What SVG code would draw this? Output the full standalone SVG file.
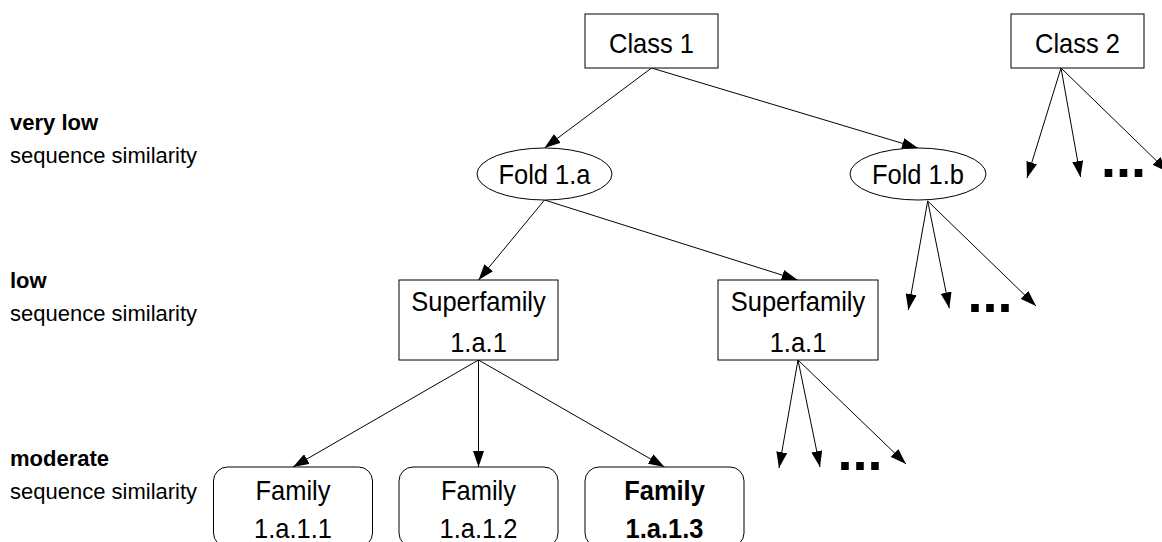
<svg xmlns="http://www.w3.org/2000/svg" width="1162" height="542" viewBox="0 0 1162 542">
<defs>
<marker id="ah" markerUnits="userSpaceOnUse" markerWidth="16" markerHeight="11" refX="16" refY="5.5" orient="auto">
<path d="M0,0 L16,5.5 L0,11 z" fill="#000"/>
</marker>
<style>
.n{fill:#fff;stroke:#000;stroke-width:1}
.t{font-family:"Liberation Sans",Arial,sans-serif;font-size:25.5px;fill:#000;text-anchor:middle}
.b{font-weight:bold}
.l{font-family:"Liberation Sans",Arial,sans-serif;font-size:22px;fill:#000}
.e{fill:none;stroke:#000;stroke-width:1;marker-end:url(#ah)}
.d{font-family:"Liberation Sans",Arial,sans-serif;font-size:54px;font-weight:bold;fill:#000;text-anchor:middle}
</style>
</defs>
<rect width="1162" height="542" fill="#fff"/>
<g id="legend">
<text class="l b" x="10" y="130">very low</text>
<text class="l" x="10" y="163">sequence similarity</text>
<text class="l b" x="10" y="288">low</text>
<text class="l" x="10" y="321">sequence similarity</text>
<text class="l b" x="10" y="466">moderate</text>
<text class="l" x="10" y="499">sequence similarity</text>
</g>
<g id="connectors">
<path class="e" d="M651.5,68 L544.5,148"/>
<path class="e" d="M651.5,68 L918,148"/>
<path class="e" d="M544.5,200 L478.5,280"/>
<path class="e" d="M544.5,200 L797.7,280"/>
<path class="e" d="M478.5,360 L293,467"/>
<path class="e" d="M478.5,360 L478.5,467"/>
<path class="e" d="M478.5,360 L664.5,467"/>
<path class="e" d="M927.7,201 L908.3,310"/>
<path class="e" d="M927.7,201 L949.3,308.3"/>
<path class="e" d="M927.7,201 L1036,306"/>
<path class="e" d="M1061,68 L1027,178"/>
<path class="e" d="M1061,68 L1080.5,177"/>
<path class="e" d="M1061,68 L1168,172"/>
<path class="e" d="M798,360 L779,468"/>
<path class="e" d="M798,360 L820,467"/>
<path class="e" d="M798,360 L906,464"/>
</g>
<g id="class1"><rect class="n" x="585" y="14" width="133" height="54"/><text class="t" transform="translate(651.5,53) scale(1,1.08)">Class 1</text></g>
<g id="class2"><rect class="n" x="1011" y="14" width="133" height="54"/><text class="t" transform="translate(1077.5,53) scale(1,1.08)">Class 2</text></g>
<g id="fold1a"><ellipse class="n" cx="544.5" cy="174" rx="67.5" ry="26"/><text class="t" transform="translate(544.5,184) scale(1,1.08)">Fold 1.a</text></g>
<g id="fold1b"><ellipse class="n" cx="918" cy="174" rx="68" ry="26"/><text class="t" transform="translate(918,184) scale(1,1.08)">Fold 1.b</text></g>
<g id="superfamily1"><rect class="n" x="399" y="280" width="159" height="80"/><text class="t" transform="translate(478.5,311) scale(1,1.08)">Superfamily</text><text class="t" transform="translate(478.5,352) scale(1,1.08)">1.a.1</text></g>
<g id="superfamily2"><rect class="n" x="718" y="280" width="160" height="80"/><text class="t" transform="translate(798,311) scale(1,1.08)">Superfamily</text><text class="t" transform="translate(798,352) scale(1,1.08)">1.a.1</text></g>
<g id="family1"><rect class="n" x="213.5" y="467" width="159" height="80" rx="14"/><text class="t" transform="translate(293,500) scale(1,1.08)">Family</text><text class="t" transform="translate(293,538) scale(1,1.08)">1.a.1.1</text></g>
<g id="family2"><rect class="n" x="399" y="467" width="159" height="80" rx="14"/><text class="t" transform="translate(478.5,500) scale(1,1.08)">Family</text><text class="t" transform="translate(478.5,538) scale(1,1.08)">1.a.1.2</text></g>
<g id="family3"><rect class="n" x="585" y="467" width="159" height="80" rx="14"/><text class="t b" transform="translate(664.5,500) scale(1,1.08)">Family</text><text class="t b" transform="translate(664.5,538) scale(1,1.08)">1.a.1.3</text></g>
<g id="more">
<text class="d" x="990" y="312">...</text>
<text class="d" x="1123.5" y="177">...</text>
<text class="d" x="860" y="470">...</text>
</g>
</svg>
